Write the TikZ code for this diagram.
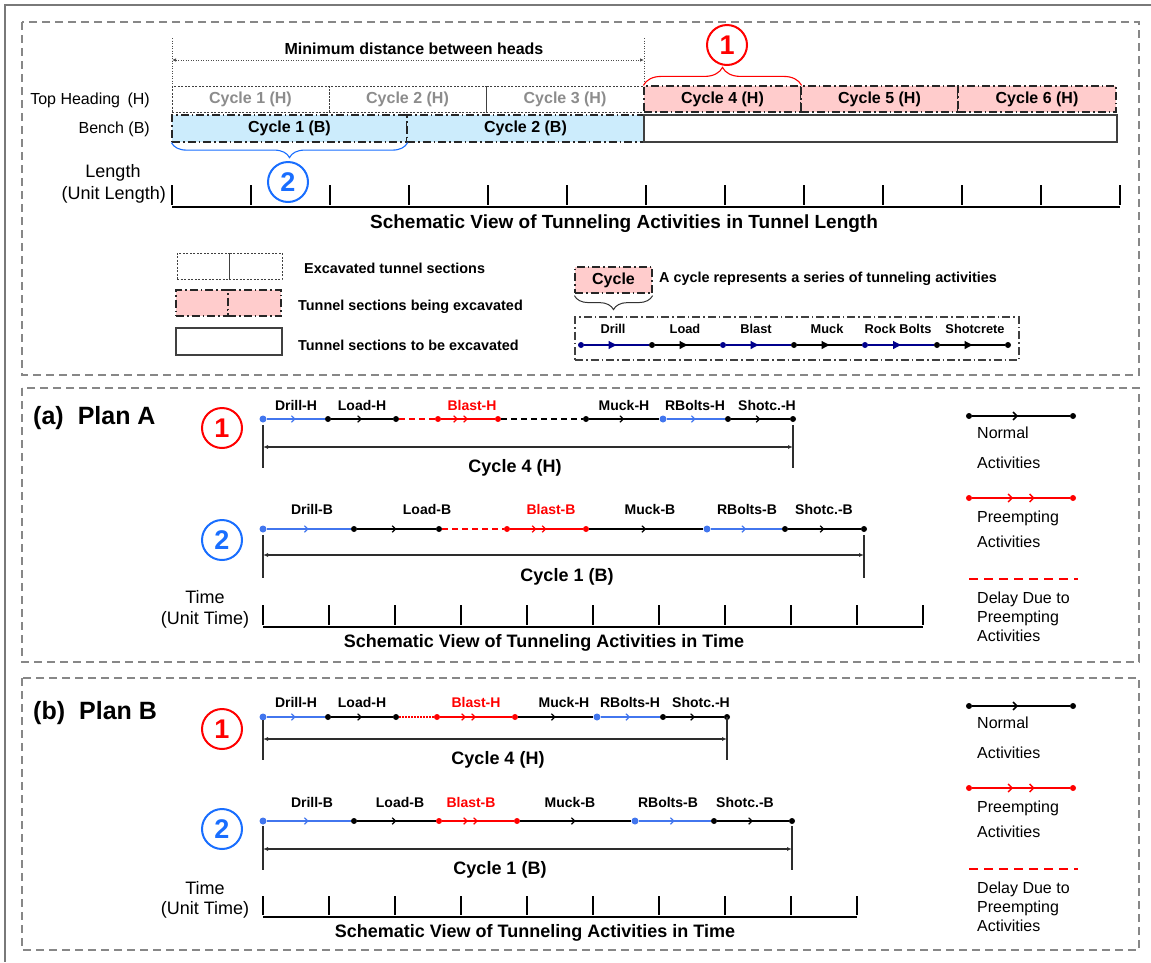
\documentclass[tikz,border=0pt]{standalone}
\usepackage{fontspec}
\setmainfont{Liberation Sans}
\usetikzlibrary{arrows.meta,decorations.markings,decorations.pathreplacing}

\newcommand{\setfz}[2]{\fontsize{#1}{#2}\selectfont}

\definecolor{pinkfill}{RGB}{255,204,204}
\definecolor{bluefill}{RGB}{204,236,252}
\definecolor{actblue}{RGB}{66,118,238}
\definecolor{navyline}{RGB}{0,0,140}
\definecolor{circblue}{RGB}{25,110,255}
\definecolor{panegray}{RGB}{135,135,135}
\definecolor{donegray}{RGB}{140,140,140}
\definecolor{rulegray}{RGB}{45,45,45}

\tikzset{
  every node/.style={inner sep=0pt},
  pane/.style={draw=panegray, line width=1.5pt, dash pattern=on 8pt off 5pt},
  donebox/.style={draw=black!75, line width=1pt, dash pattern=on 2pt off 1.5pt},
  workbox/.style={draw=black!85, fill=pinkfill, line width=1.2pt, dash pattern=on 8pt off 3pt on 1.5pt off 3pt},
  benchbox/.style={workbox, fill=bluefill},
  todobox/.style={draw=black!75, line width=1.2pt},
  actframe/.style={draw=black!75, line width=1.2pt, dash pattern=on 8pt off 3pt on 1.5pt off 3pt},
  dot/.style={circle, fill, minimum size=6pt},
  bigdot/.style={dot, minimum size=7pt},
  seg/.style={line width=1.2pt},
  midarrow/.style={postaction={decorate, decoration={markings, mark=at position 0.5 with {\arrow{Straight Barb[length=3.5pt,width=6.5pt]}}}}},
  dblarrow/.style={postaction={decorate, decoration={markings, mark=at position 0.5 with {\arrow{Straight Barb[length=3.5pt,width=6.5pt,sep=5pt]Straight Barb[length=3.5pt,width=6.5pt]}}}}},
  legdbl/.style={postaction={decorate, decoration={markings, mark=at position 0.42 with {\arrow{Straight Barb[length=4pt,width=8pt]}}, mark=at position 0.64 with {\arrow{Straight Barb[length=4pt,width=8pt]}}}}},
  trarrow/.style={postaction={decorate, decoration={markings, mark=at position 0.5 with {\arrow{Triangle[length=8pt,width=8pt]}}}}},
  delay/.style={line width=1.2pt, dash pattern=on 6pt off 4pt},
  shortdots/.style={line width=1.2pt, dash pattern=on 1.5pt off 1.5pt},
  bar/.style={rulegray, line width=2pt},
  dimline/.style={rulegray, line width=1.2pt, arrows={Latex[length=5pt,width=4pt]-Latex[length=5pt,width=4pt]}},
  dimdot/.style={black!70, line width=0.8pt, dash pattern=on 1pt off 1.5pt},
  tick/.style={black, line width=1.4pt},
  numcircle/.style={circle, line width=2pt, minimum size=40pt, font=\setfz{27}{30}\bfseries},
  fplan/.style={font=\setfz{14}{17}\bfseries},
  fcyc/.style={font=\setfz{16}{19}\bfseries},
  fbig/.style={font=\setfz{18}{21}\bfseries},
  ftitle/.style={font=\setfz{19}{22}\bfseries},
  freg/.style={font=\setfz{16}{19}},
  flen/.style={font=\setfz{18}{21}},
  fleg/.style={font=\setfz{14.4}{17}\bfseries},
  fact/.style={font=\setfz{12.8}{15}\bfseries},
  fhead/.style={font=\setfz{25}{29}\bfseries},
}

\begin{document}
\begin{tikzpicture}[x=1pt,y=-1pt]
\useasboundingbox (0,0) rectangle (1151,962);

% outer frame and the three panes
\draw[panegray!90!black, line width=2pt] (1151,5) -- (5,5) -- (5,962);
\draw[pane] (22,22) rectangle (1139,375);
\draw[pane] (22,388) rectangle (1139,662);
\draw[pane] (22,678) rectangle (1139,950);

% ---------------- tunnel length view ----------------
\coordinate (mdL) at (172,60);
\coordinate (mdR) at (644,60);
\coordinate (mdLt) at (172,38);
\coordinate (mdLb) at (172,86);
\coordinate (mdRt) at (644,38);
\coordinate (mdRb) at (644,86);
\draw[dimdot] (mdLt) -- (mdLb);
\draw[dimdot] (mdRt) -- (mdRb);
\draw[dimdot, arrows={Latex[length=4pt,width=3.5pt]-Latex[length=4pt,width=3.5pt]}] (mdL) -- (mdR);
\node[fcyc] (mdT) at (414,49) {Minimum distance between heads};

\node[freg, anchor=east] (topH) at (150,100) {Top Heading\hspace{3pt} (H)};
\node[freg, anchor=east] (bench) at (150,129) {Bench (B)};

\node[donebox, minimum width=157pt, minimum height=26pt, fcyc, text=donegray] (h1) at (250.5,99) {Cycle 1 (H)};
\node[donebox, minimum width=157pt, minimum height=26pt, fcyc, text=donegray] (h2) at (407.5,99) {Cycle 2 (H)};
\node[donebox, minimum width=158pt, minimum height=26pt, fcyc, text=donegray] (h3) at (565,99) {Cycle 3 (H)};
\node[workbox, minimum width=157pt, minimum height=26pt, fcyc] (h4) at (722.5,99) {Cycle 4 (H)};
\node[workbox, minimum width=157pt, minimum height=26pt, fcyc] (h5) at (879.5,99) {Cycle 5 (H)};
\node[workbox, minimum width=158pt, minimum height=26pt, fcyc] (h6) at (1037,99) {Cycle 6 (H)};

\node[benchbox, minimum width=235pt, minimum height=27pt, fcyc] (b1) at (289.5,128.5) {Cycle 1 (B)};
\node[benchbox, minimum width=237pt, minimum height=27pt, fcyc] (b2) at (525.5,128.5) {Cycle 2 (B)};
\node[todobox, minimum width=473pt, minimum height=27pt] (b3) at (880.5,128.5) {};

\draw[red, line width=1.1pt, decorate, decoration={brace, amplitude=18pt}] (h4.north west) -- (h4.north east);
\node[numcircle, draw=red, text=red] (c1) at (727,45) {1};
\draw[circblue, line width=1.1pt, decorate, decoration={brace, amplitude=15pt}] (b1.south east) -- (b1.south west);
\node[numcircle, draw=circblue, text=circblue] (c2) at (288,182) {2};

\node[flen] (lenA) at (113,173) {Length};
\node[flen, anchor=east] (lenB) at (166,195) {(Unit Length)};
\draw[tick] (172,207) -- (1120,207);
\foreach \i in {0,...,12} { \draw[tick] (172+79*\i,185) -- (172+79*\i,205); }
\node[ftitle] (lenT) at (624,224) {Schematic View of Tunneling Activities in Tunnel Length};

% legend of tunnel sections
\node[donebox, minimum width=52pt, minimum height=26pt] (lg1a) at (203,266) {};
\node[donebox, minimum width=53pt, minimum height=26pt] (lg1b) at (255.5,266) {};
\node[workbox, minimum width=52pt, minimum height=26pt] (lg2a) at (202,303) {};
\node[workbox, minimum width=53pt, minimum height=26pt] (lg2b) at (254.5,303) {};
\node[todobox, minimum width=106pt, minimum height=27pt] (lg3) at (229,341.5) {};
\node[fleg, anchor=west] (lg1t) at (304,268) {Excavated tunnel sections};
\node[fleg, anchor=west] (lg2t) at (298,307) {Tunnel sections being excavated};
\node[fleg, anchor=west] (lg3t) at (298,345) {Tunnel sections to be excavated};

% legend of one cycle
\node[workbox, minimum width=77pt, minimum height=26pt, fcyc] (cyc) at (613.5,280) {Cycle};
\draw[black!80, line width=1pt, decorate, decoration={brace, amplitude=14pt}] ([yshift=-2pt]cyc.south east) -- ([yshift=-2pt]cyc.south west);
\node[fleg, anchor=west] (cyct) at (659,279) {A cycle represents a series of tunneling activities};
\node[actframe, minimum width=444pt, minimum height=43pt] (actbox) at (797,338.5) {};

\node[dot, navyline] (s0) at (581,345) {};
\node[dot, black] (s1) at (652,345) {};
\node[dot, navyline] (s2) at (723,345) {};
\node[dot, black] (s3) at (794,345) {};
\node[dot, navyline] (s4) at (865,345) {};
\node[dot, black] (s5) at (937,345) {};
\node[dot, black] (s6) at (1008,345) {};
\draw[seg, navyline, trarrow] (s0) -- (s1);
\draw[seg, black, trarrow] (s1) -- (s2);
\draw[seg, navyline, trarrow] (s2) -- (s3);
\draw[seg, black, trarrow] (s3) -- (s4);
\draw[seg, navyline, trarrow] (s4) -- (s5);
\draw[seg, black, trarrow] (s5) -- (s6);
\node[fact] (st0) at (613,329) {Drill};
\node[fact] (st1) at (685,329) {Load};
\node[fact] (st2) at (756,329) {Blast};
\node[fact] (st3) at (827,329) {Muck};
\node[fact] (st4) at (898,329) {Rock Bolts};
\node[fact] (st5) at (975,329) {Shotcrete};

% ---------------- plan A ----------------
\node[fhead, anchor=west] (planA) at (33,418) {(a)\hspace{14pt}Plan A};
\node[numcircle, draw=red, text=red] (aC1) at (222,428) {1};
\node[numcircle, draw=circblue, text=circblue] (aC2) at (222,540) {2};

\node[bigdot, actblue] (aH0) at (263,419) {};
\node[dot, black] (aH1) at (328,419) {};
\node[dot, black] (aH2) at (396,419) {};
\node[dot, red] (aH3) at (438,419) {};
\node[dot, red] (aH4) at (498,419) {};
\node[dot, black] (aH5) at (586,419) {};
\node[bigdot, actblue] (aH6) at (663,419) {};
\node[dot, black] (aH7) at (728,419) {};
\node[dot, black] (aH8) at (793,419) {};
\draw[seg, actblue, midarrow] (aH0) -- (aH1);
\draw[seg, black, midarrow] (aH1) -- (aH2);
\draw[delay, red] (aH2) -- (aH3);
\draw[seg, red, dblarrow] (aH3) -- (aH4);
\draw[delay, black] (aH4) -- (aH5);
\draw[seg, black, midarrow] (aH5) -- (aH6);
\draw[seg, actblue, midarrow] (aH6) -- (aH7);
\draw[seg, black, midarrow] (aH7) -- (aH8);
\node[fplan] (aHt0) at (296,405) {Drill-H};
\node[fplan] (aHt1) at (362,405) {Load-H};
\node[fplan, red] (aHt2) at (472,405) {Blast-H};
\node[fplan] (aHt3) at (624,405) {Muck-H};
\node[fplan] (aHt4) at (695,405) {RBolts-H};
\node[fplan] (aHt5) at (767,405) {Shotc.-H};

\coordinate (aHa) at (263,425); \coordinate (aHb) at (263,468);
\coordinate (aHc) at (793,425); \coordinate (aHd) at (793,468);
\coordinate (aHm0) at (263,447); \coordinate (aHm1) at (793,447);
\draw[bar] (aHa) -- (aHb);
\draw[bar] (aHc) -- (aHd);
\draw[dimline] (aHm0) -- (aHm1);
\node[fbig] (aHcyc) at (515,468) {Cycle 4 (H)};

\node[bigdot, actblue] (aB0) at (263,529) {};
\node[dot, black] (aB1) at (354,529) {};
\node[dot, black] (aB2) at (439,529) {};
\node[dot, red] (aB3) at (507,529) {};
\node[dot, red] (aB4) at (586,529) {};
\node[bigdot, actblue] (aB5) at (707,529) {};
\node[dot, black] (aB6) at (785,529) {};
\node[dot, black] (aB7) at (864,529) {};
\draw[seg, actblue, midarrow] (aB0) -- (aB1);
\draw[seg, black, midarrow] (aB1) -- (aB2);
\draw[delay, red] (aB2) -- (aB3);
\draw[seg, red, dblarrow] (aB3) -- (aB4);
\draw[seg, black, midarrow] (aB4) -- (aB5);
\draw[seg, actblue, midarrow] (aB5) -- (aB6);
\draw[seg, black, midarrow] (aB6) -- (aB7);
\node[fplan] (aBt0) at (312,509) {Drill-B};
\node[fplan] (aBt1) at (427,509) {Load-B};
\node[fplan, red] (aBt2) at (551,509) {Blast-B};
\node[fplan] (aBt3) at (650,509) {Muck-B};
\node[fplan] (aBt4) at (747,509) {RBolts-B};
\node[fplan] (aBt5) at (824,509) {Shotc.-B};

\coordinate (aBa) at (263,535); \coordinate (aBb) at (263,578);
\coordinate (aBc) at (864,535); \coordinate (aBd) at (864,578);
\coordinate (aBm0) at (263,555); \coordinate (aBm1) at (864,555);
\draw[bar] (aBa) -- (aBb);
\draw[bar] (aBc) -- (aBd);
\draw[dimline] (aBm0) -- (aBm1);
\node[fbig] (aBcyc) at (567,577) {Cycle 1 (B)};

\node[flen] (aTime) at (205,597) {Time};
\node[flen] (aUnit) at (205,620) {(Unit Time)};
\draw[tick] (263,627) -- (923,627);
\foreach \i in {0,...,10} { \draw[tick] (263+66*\i,605) -- (263+66*\i,625); }
\node[fbig] (aTitle) at (544,643) {Schematic View of Tunneling Activities in Time};

% legend of plan A
\node[dot, black] (aL0) at (969,416) {};
\node[dot, black] (aL1) at (1073,416) {};
\draw[line width=1.5pt, black, postaction={decorate, decoration={markings, mark=at position 0.47 with {\arrow{Straight Barb[length=4pt,width=8pt]}}}}] (aL0) -- (aL1);
\node[freg, anchor=west] (aLt0) at (977,433) {Normal};
\node[freg, anchor=west] (aLt1) at (977,463) {Activities};
\node[dot, red] (aL2) at (969,498) {};
\node[dot, red] (aL3) at (1073,498) {};
\draw[line width=1.5pt, red, legdbl] (aL2) -- (aL3);
\node[freg, anchor=west] (aLt2) at (977,518) {Preempting};
\node[freg, anchor=west] (aLt3) at (977,542) {Activities};
\coordinate (aL4) at (969,579); \coordinate (aL5) at (1078,579);
\draw[red, line width=1.8pt, dash pattern=on 9pt off 6pt] (aL4) -- (aL5);
\node[freg, anchor=north west, align=left, font=\setfz{16}{19}] (aLt4) at (977,592) {Delay Due to\\Preempting\\Activities};

% ---------------- plan B ----------------
\node[fhead, anchor=west] (planB) at (33,713) {(b)\hspace{14pt}Plan B};
\node[numcircle, draw=red, text=red] (bC1) at (222,729) {1};
\node[numcircle, draw=circblue, text=circblue] (bC2) at (222,829) {2};

\node[bigdot, actblue] (bH0) at (263,717) {};
\node[dot, black] (bH1) at (328,717) {};
\node[dot, black] (bH2) at (396,717) {};
\node[dot, red] (bH3) at (437,717) {};
\node[dot, red] (bH4) at (515,717) {};
\node[bigdot, actblue] (bH5) at (597,717) {};
\node[dot, black] (bH6) at (663,717) {};
\node[dot, black] (bH7) at (727,717) {};
\draw[seg, actblue, midarrow] (bH0) -- (bH1);
\draw[seg, black, midarrow] (bH1) -- (bH2);
\draw[shortdots, red] (bH2) -- (bH3);
\draw[seg, red, dblarrow] (bH3) -- (bH4);
\draw[seg, black, midarrow] (bH4) -- (bH5);
\draw[seg, actblue, midarrow] (bH5) -- (bH6);
\draw[seg, black, midarrow] (bH6) -- (bH7);
\node[fplan] (bHt0) at (296,702) {Drill-H};
\node[fplan] (bHt1) at (362,702) {Load-H};
\node[fplan, red] (bHt2) at (476,702) {Blast-H};
\node[fplan] (bHt3) at (564,702) {Muck-H};
\node[fplan] (bHt4) at (630,702) {RBolts-H};
\node[fplan] (bHt5) at (701,702) {Shotc.-H};

\coordinate (bHa) at (263,720); \coordinate (bHb) at (263,760);
\coordinate (bHc) at (727,717); \coordinate (bHd) at (727,760);
\coordinate (bHm0) at (263,739); \coordinate (bHm1) at (727,739);
\draw[bar] (bHa) -- (bHb);
\draw[bar] (bHc) -- (bHd);
\draw[dimline] (bHm0) -- (bHm1);
\node[fbig] (bHcyc) at (498,760) {Cycle 4 (H)};

\node[bigdot, actblue] (bB0) at (263,821) {};
\node[dot, black] (bB1) at (354,821) {};
\node[dot, red] (bB2) at (439,821) {};
\node[dot, red] (bB3) at (517,821) {};
\node[bigdot, actblue] (bB4) at (635,821) {};
\node[dot, black] (bB5) at (714,821) {};
\node[dot, black] (bB6) at (792,821) {};
\draw[seg, actblue, midarrow] (bB0) -- (bB1);
\draw[seg, black, midarrow] (bB1) -- (bB2);
\draw[seg, red, dblarrow] (bB2) -- (bB3);
\draw[seg, black, midarrow] (bB3) -- (bB4);
\draw[seg, actblue, midarrow] (bB4) -- (bB5);
\draw[seg, black, midarrow] (bB5) -- (bB6);
\node[fplan] (bBt0) at (312,802) {Drill-B};
\node[fplan] (bBt1) at (400,802) {Load-B};
\node[fplan, red] (bBt2) at (471,802) {Blast-B};
\node[fplan] (bBt3) at (570,802) {Muck-B};
\node[fplan] (bBt4) at (668,802) {RBolts-B};
\node[fplan] (bBt5) at (745,802) {Shotc.-B};

\coordinate (bBa) at (263,826); \coordinate (bBb) at (263,870);
\coordinate (bBc) at (792,826); \coordinate (bBd) at (792,870);
\coordinate (bBm0) at (263,849); \coordinate (bBm1) at (792,849);
\draw[bar] (bBa) -- (bBb);
\draw[bar] (bBc) -- (bBd);
\draw[dimline] (bBm0) -- (bBm1);
\node[fbig] (bBcyc) at (500,870) {Cycle 1 (B)};

\node[flen] (bTime) at (205,888) {Time};
\node[flen] (bUnit) at (205,910) {(Unit Time)};
\draw[tick] (263,917) -- (857,917);
\foreach \i in {0,...,9} { \draw[tick] (263+66*\i,896) -- (263+66*\i,915); }
\node[fbig] (bTitle) at (535,933) {Schematic View of Tunneling Activities in Time};

% legend of plan B
\node[dot, black] (bL0) at (969,706) {};
\node[dot, black] (bL1) at (1073,706) {};
\draw[line width=1.5pt, black, postaction={decorate, decoration={markings, mark=at position 0.47 with {\arrow{Straight Barb[length=4pt,width=8pt]}}}}] (bL0) -- (bL1);
\node[freg, anchor=west] (bLt0) at (977,723) {Normal};
\node[freg, anchor=west] (bLt1) at (977,753) {Activities};
\node[dot, red] (bL2) at (969,788) {};
\node[dot, red] (bL3) at (1073,788) {};
\draw[line width=1.5pt, red, legdbl] (bL2) -- (bL3);
\node[freg, anchor=west] (bLt2) at (977,808) {Preempting};
\node[freg, anchor=west] (bLt3) at (977,832) {Activities};
\coordinate (bL4) at (969,869); \coordinate (bL5) at (1078,869);
\draw[red, line width=1.8pt, dash pattern=on 9pt off 6pt] (bL4) -- (bL5);
\node[freg, anchor=north west, align=left, font=\setfz{16}{19}] (bLt4) at (977,882) {Delay Due to\\Preempting\\Activities};

\end{tikzpicture}
\end{document}
